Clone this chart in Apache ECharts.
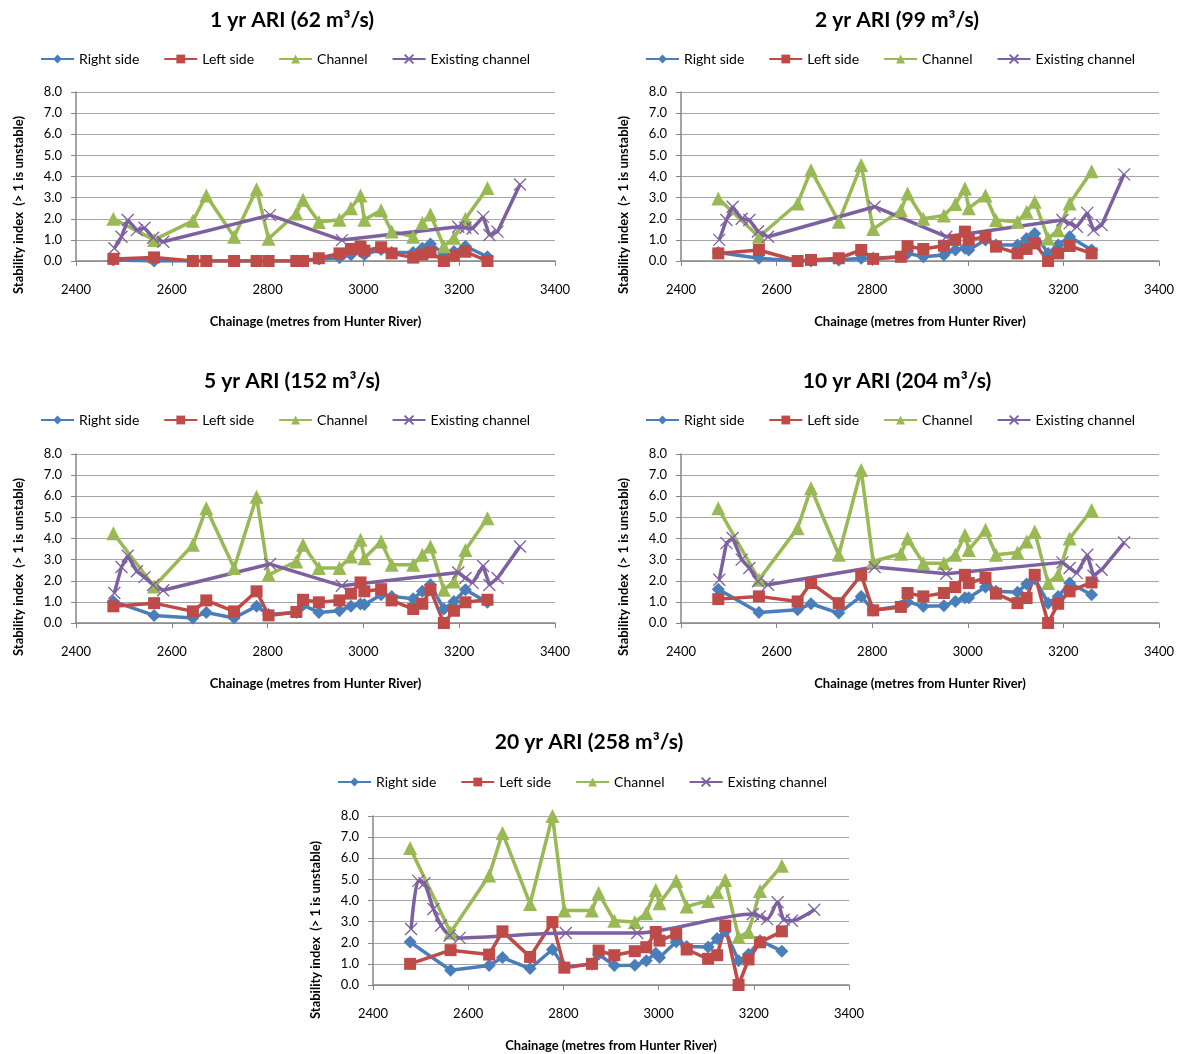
<!DOCTYPE html>
<html>
<head>
<meta charset="utf-8">
<script src="https://cdn.jsdelivr.net/npm/echarts@6/dist/echarts.min.js"></script>
<style>
  html, body { margin: 0; padding: 0; background: #ffffff; }
  #chart { width: 1186px; height: 1054px; }
</style>
</head>
<body>
<div id="chart"></div>
<script>
// Chainage (m from Hunter River) of the design cross-sections
const chainage = [2478, 2563, 2644, 2672, 2730, 2777, 2802, 2860, 2874, 2907, 2950, 2974, 2994, 3002, 3037, 3059, 3104, 3123, 3140, 3168, 3189, 3213, 3259];
// Chainage of the existing channel cross-sections
const existingChainage = [2480, 2495, 2508, 2527, 2543, 2561, 2582, 2805, 2955, 3198, 3213, 3228, 3250, 3263, 3280, 3327];

const panelTitles = ['1 yr ARI (62 m³/s)', '2 yr ARI (99 m³/s)', '5 yr ARI (152 m³/s)', '10 yr ARI (204 m³/s)', '20 yr ARI (258 m³/s)'];
const seriesNames = ['Right side', 'Left side', 'Channel', 'Existing channel'];
const xTicks = [2400, 2600, 2800, 3000, 3200, 3400];
const yTicks = [0, 1, 2, 3, 4, 5, 6, 7, 8];

// 1 yr ARI
const right1 = [0.05, 0.0, 0.0, 0.0, 0.0, 0.0, 0.0, 0.0, 0.0, 0.1, 0.15, 0.3, 0.45, 0.3, 0.55, 0.4, 0.4, 0.6, 0.8, 0.35, 0.45, 0.7, 0.2];
const left1 = [0.1, 0.17, 0, 0, 0, 0, 0, 0, 0, 0.13, 0.36, 0.57, 0.68, 0.49, 0.65, 0.36, 0.16, 0.31, 0.41, 0, 0.25, 0.44, 0];
const channel1 = [2.0, 1.0, 1.9, 3.1, 1.15, 3.4, 1.05, 2.25, 2.9, 1.85, 1.95, 2.5, 3.1, 1.95, 2.4, 1.4, 1.15, 1.8, 2.2, 0.7, 1.1, 2.0, 3.45];
const existing1 = [0.6, 1.15, 1.94, 1.46, 1.57, 1.1, 0.91, 2.17, 0.99, 1.62, 1.57, 1.54, 2.09, 1.23, 1.39, 3.62];

// 2 yr ARI
const right2 = [0.4, 0.13, 0.0, 0.0, 0.05, 0.13, 0.13, 0.2, 0.36, 0.2, 0.28, 0.52, 0.6, 0.52, 1.0, 0.76, 0.76, 1.07, 1.3, 0.36, 0.76, 1.15, 0.52];
const left2 = [0.36, 0.52, 0.0, 0.05, 0.13, 0.52, 0.1, 0.2, 0.7, 0.57, 0.72, 1.0, 1.39, 1.0, 1.15, 0.68, 0.36, 0.57, 0.83, 0.0, 0.36, 0.71, 0.36];
const channel2 = [2.96, 1.15, 2.72, 4.3, 1.86, 4.54, 1.51, 2.4, 3.2, 2.0, 2.15, 2.7, 3.43, 2.5, 3.1, 1.94, 1.86, 2.33, 2.8, 1.07, 1.46, 2.72, 4.25];
const existing2 = [1.0, 1.94, 2.57, 2.0, 1.94, 1.4, 1.15, 2.57, 1.15, 1.94, 1.78, 1.62, 2.28, 1.46, 1.7, 4.1];

// 5 yr ARI
const right3 = [1.02, 0.36, 0.24, 0.5, 0.24, 0.79, 0.4, 0.5, 0.85, 0.5, 0.58, 0.79, 0.9, 0.87, 1.34, 1.26, 1.15, 1.5, 1.81, 0.66, 1.02, 1.57, 0.98];
const left3 = [0.79, 0.94, 0.55, 1.07, 0.55, 1.5, 0.36, 0.52, 1.1, 0.98, 1.07, 1.39, 1.92, 1.5, 1.6, 1.07, 0.66, 0.91, 1.57, 0.0, 0.58, 0.98, 1.1];
const channel3 = [4.25, 1.73, 3.7, 5.43, 2.6, 5.98, 2.28, 2.91, 3.7, 2.6, 2.6, 3.15, 3.94, 3.07, 3.86, 2.76, 2.76, 3.23, 3.62, 1.57, 1.97, 3.46, 4.96];
const existing3 = [1.42, 2.65, 3.18, 2.45, 2.17, 1.8, 1.55, 2.79, 1.76, 2.39, 2.13, 1.9, 2.7, 1.8, 2.13, 3.62];

// 10 yr ARI
const right4 = [1.6, 0.5, 0.63, 0.91, 0.47, 1.26, 0.6, 0.8, 1.0, 0.79, 0.82, 1.02, 1.2, 1.2, 1.7, 1.5, 1.45, 1.85, 2.1, 0.94, 1.26, 1.89, 1.34];
const left4 = [1.13, 1.26, 1.02, 1.89, 0.94, 2.28, 0.6, 0.76, 1.42, 1.26, 1.42, 1.7, 2.28, 1.89, 2.13, 1.39, 0.94, 1.18, 2.28, 0.0, 0.91, 1.5, 1.92];
const channel4 = [5.43, 2.05, 4.49, 6.38, 3.23, 7.24, 2.91, 3.28, 4.0, 2.83, 2.83, 3.23, 4.17, 3.46, 4.41, 3.23, 3.34, 3.86, 4.33, 1.89, 2.28, 4.0, 5.35];
const existing4 = [2.05, 3.78, 4.02, 3.0, 2.6, 1.97, 1.81, 2.65, 2.33, 2.87, 2.6, 2.36, 3.23, 2.24, 2.52, 3.81];

// 20 yr ARI
const right5 = [2.03, 0.7, 0.92, 1.3, 0.78, 1.68, 0.85, 1.0, 1.45, 0.92, 0.93, 1.15, 1.5, 1.3, 2.05, 1.82, 1.8, 2.2, 2.55, 1.15, 1.45, 2.1, 1.6];
const left5 = [1.0, 1.65, 1.44, 2.54, 1.33, 2.98, 0.82, 1.0, 1.63, 1.41, 1.6, 1.79, 2.51, 2.1, 2.42, 1.68, 1.24, 1.41, 2.81, 0.0, 1.21, 2.02, 2.54];
const channel5 = [6.49, 2.49, 5.18, 7.2, 3.84, 8.0, 3.53, 3.53, 4.35, 3.04, 2.98, 3.4, 4.5, 3.87, 4.94, 3.72, 3.98, 4.39, 4.97, 2.27, 2.51, 4.45, 5.65];
const existing5 = [2.65, 4.93, 4.82, 3.6, 2.82, 2.34, 2.23, 2.46, 2.46, 3.36, 3.25, 3.12, 3.92, 3.09, 3.04, 3.56];

const panelData = [
  [right1, left1, channel1, existing1],
  [right2, left2, channel2, existing2],
  [right3, left3, channel3, existing3],
  [right4, left4, channel4, existing4],
  [right5, left5, channel5, existing5]
];

// Layout of the five panels
const layout = [
  { gx: 76,  gy: 92,  gw: 479, titleX: 287, titleY: 5,   legX: 40,  legY: 52,  yTitleX: 19,  yTitleY: 205 },
  { gx: 681, gy: 92,  gw: 478, titleX: 892, titleY: 5,   legX: 645, legY: 52,  yTitleX: 624, yTitleY: 205 },
  { gx: 76,  gy: 454, gw: 479, titleX: 287, titleY: 366, legX: 40,  legY: 413, yTitleX: 19,  yTitleY: 567 },
  { gx: 681, gy: 454, gw: 478, titleX: 892, titleY: 366, legX: 645, legY: 413, yTitleX: 624, yTitleY: 567 },
  { gx: 373, gy: 816, gw: 476, titleX: 584, titleY: 727, legX: 337, legY: 775, yTitleX: 316, yTitleY: 930 }
];
const plotH = 169;

const FONT = 'Lato, "Open Sans", sans-serif';
const colors = ['#4A7EBB', '#BE4B48', '#98B954', '#7D60A0'];
const symbols = ['diamond', 'rect', 'triangle', 'path://M0 0L10 10M10 0L0 10'];
const symbolSizes = [13, 12, 14, 12];

const titles = [], legends = [], grids = [], xAxes = [], yAxes = [], series = [], graphics = [];

layout.forEach((p, k) => {
  titles.push({
    text: panelTitles[k], left: p.titleX, top: p.titleY, textAlign: 'center',
    textStyle: { fontFamily: FONT, fontWeight: 'bold', fontSize: 21, color: '#000' }
  });
  legends.push({
    data: seriesNames, left: p.legX, top: p.legY, padding: 0,
    itemWidth: 33, itemHeight: 11, itemGap: 24,
    textStyle: { fontFamily: FONT, fontSize: 14, color: '#000' },
    selectedMode: false
  });
  grids.push({ left: p.gx, top: p.gy, width: p.gw, height: plotH });
  xAxes.push({
    type: 'value', gridIndex: k, min: xTicks[0], max: xTicks[xTicks.length - 1], interval: 200,
    name: 'Chainage (metres from Hunter River)', nameLocation: 'middle', nameGap: 54,
    nameTextStyle: { fontFamily: FONT, fontWeight: 'bold', fontSize: 13, color: '#000' },
    axisLine: { show: true, onZero: false, lineStyle: { color: '#868686', width: 1.5 } },
    axisTick: { show: true, length: 5, lineStyle: { color: '#868686' } },
    axisLabel: { margin: 22, fontFamily: FONT, fontSize: 13, color: '#000', formatter: v => String(v) },
    splitLine: { show: false }
  });
  yAxes.push({
    type: 'value', gridIndex: k, min: yTicks[0], max: yTicks[yTicks.length - 1], interval: 1,
    axisLine: { show: true, lineStyle: { color: '#868686', width: 1.5 } },
    axisTick: { show: true, length: 5, lineStyle: { color: '#868686' } },
    axisLabel: { margin: 14, fontFamily: FONT, fontSize: 13, color: '#000', formatter: v => v.toFixed(1) },
    splitLine: { show: true, lineStyle: { color: '#A6A6A6', width: 1.2 } }
  });
  graphics.push({
    type: 'text', x: p.yTitleX, y: p.yTitleY, rotation: Math.PI / 2,
    style: { text: 'Stability index  (> 1 is unstable)', font: 'bold 13px ' + FONT, fill: '#000', align: 'center', verticalAlign: 'middle' }
  });

  panelData[k].forEach((vals, s) => {
    const xs = s === 3 ? existingChainage : chainage;
    const isCross = s === 3;
    series.push({
      type: 'line', name: seriesNames[s], xAxisIndex: k, yAxisIndex: k,
      data: xs.map((x, i) => [x, vals[i]]),
      symbol: symbols[s], symbolSize: symbolSizes[s], symbolKeepAspect: true,
      smooth: (k === 4 && isCross) ? 0.25 : false,
      lineStyle: { color: colors[s], width: 3.5 },
      itemStyle: isCross
        ? { color: 'rgba(0,0,0,0)', borderColor: colors[s], borderWidth: 1.3 }
        : { color: colors[s], borderWidth: 0 },
      emphasis: { disabled: true },
      animation: false
    });
  });
});

const chart = echarts.init(document.getElementById('chart'), null, { renderer: 'canvas' });
chart.setOption({
  backgroundColor: '#ffffff',
  animation: false,
  title: titles,
  legend: legends,
  grid: grids,
  xAxis: xAxes,
  yAxis: yAxes,
  series: series,
  graphic: graphics
});
</script>
</body>
</html>
